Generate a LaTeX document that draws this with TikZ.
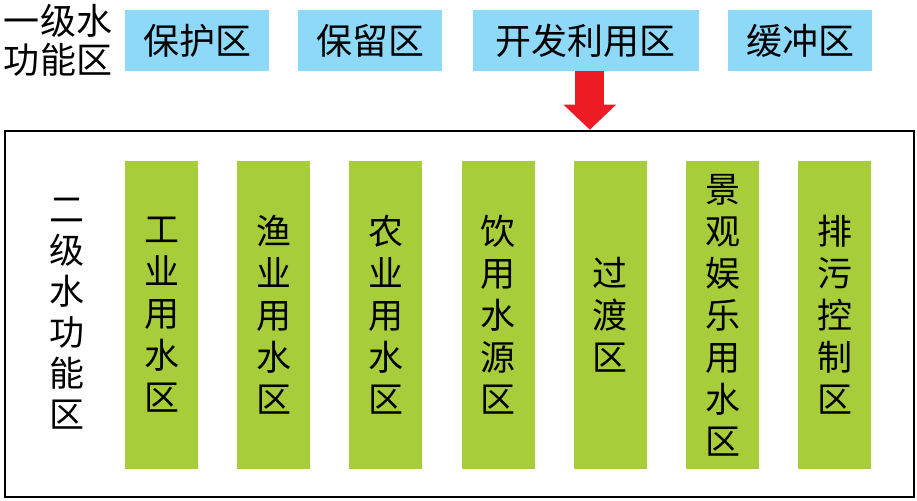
\documentclass[tikz,border=0pt]{standalone}
\usepackage{fontspec}
\usepackage{tikz}
\usetikzlibrary{arrows.meta,positioning}
\newfontfamily\cjk{Noto Sans CJK SC}
\definecolor{firstblue}{HTML}{8ED8F8}
\definecolor{secondgreen}{HTML}{A7CE3A}
\definecolor{arrowred}{HTML}{ED1C24}

\begin{document}
\begin{tikzpicture}[x=1pt,y=-1pt,node distance=29pt,
  firstzone/.style={fill=firstblue,minimum height=61pt,minimum width=144pt,inner sep=0pt,
    font=\cjk\fontsize{36}{40}\selectfont},
  secondzone/.style={fill=secondgreen,minimum height=308pt,minimum width=73pt,inner sep=0pt,
    align=center,font=\cjk\fontsize{35}{42}\selectfont},
  label/.style={align=center,inner sep=0pt,font=\cjk\fontsize{36}{39}\selectfont}]
  \useasboundingbox (0,0) rectangle (917,500);

  % first level
  \node[label]                      (first)  at (58,40)  {一级水\\功能区};
  \node[firstzone]                  (protect) at (197,40.5) {保护区};
  \node[firstzone,right=of protect] (reserve) {保留区};
  \node[firstzone,right=30pt of reserve,minimum width=226pt] (develop) {开发利用区};
  \node[firstzone,right=of develop] (buffer)  {缓冲区};

  % second level
  \node[draw,line width=2.5pt,minimum width=909pt,minimum height=366pt,inner sep=0pt]
        (frame) at (459.5,314) {};
  \node[label,font=\cjk\fontsize{35}{41}\selectfont] (second) at (67,314)
        {二\\级\\水\\功\\能\\区};

  \foreach \name/\txt [count=\i from 0] in
    {industry/工\\业\\用\\水\\区, fishery/渔\\业\\用\\水\\区, farm/农\\业\\用\\水\\区,
     drink/饮\\用\\水\\源\\区, transit/过\\渡\\区,
     scenery/景\\观\\娱\\乐\\用\\水\\区, sewage/排\\污\\控\\制\\区}
    \node[secondzone] (\name) at (161.5+112.2*\i,315) {\txt};

  \draw[arrowred,line width=29pt,-{Triangle[length=25pt,width=51pt]}]
        ([xshift=4pt]develop.south) -- ([xshift=4pt]develop.south |- frame.north);
\end{tikzpicture}
\end{document}
